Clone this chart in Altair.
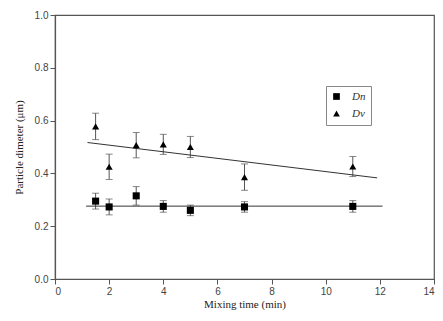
import altair as alt
import pandas as pd

# data
times = [1.5, 2, 3, 4, 5, 7, 11]
dn_vals = [0.295, 0.273, 0.315, 0.275, 0.260, 0.273, 0.275]
dn_err = [0.030, 0.030, 0.035, 0.022, 0.020, 0.020, 0.022]
dv_vals = [0.578, 0.425, 0.507, 0.510, 0.500, 0.386, 0.426]
dv_err = [0.050, 0.048, 0.048, 0.038, 0.040, 0.050, 0.038]

fit_dn_x = [1.15, 12.1]
fit_dn_y = [0.276, 0.276]
fit_dv_x = [1.2, 11.9]
fit_dv_y = [0.517, 0.383]

series_names = ["Dn", "Dv"]

rows = []
for t, v, e in zip(times, dn_vals, dn_err):
    rows.append({"t": t, "v": v, "lo": v - e, "hi": v + e, "s": "Dn"})
for t, v, e in zip(times, dv_vals, dv_err):
    rows.append({"t": t, "v": v, "lo": v - e, "hi": v + e, "s": "Dv"})
df = pd.DataFrame(rows)

fit_rows = []
for x, y in zip(fit_dn_x, fit_dn_y):
    fit_rows.append({"t": x, "v": y, "s": "Dn"})
for x, y in zip(fit_dv_x, fit_dv_y):
    fit_rows.append({"t": x, "v": y, "s": "Dv"})
fit_df = pd.DataFrame(fit_rows)

axis_color = "#555555"
label_color = "#444444"

x_axis = alt.Axis(
    values=list(range(0, 15)),
    labelExpr="datum.value % 2 === 0 ? datum.label : ''",
    tickSize={"condition": {"test": "datum.value % 2 !== 0", "value": 3}, "value": 5},
    title="Mixing time (min)",
    titleFont="Liberation Serif", titleFontWeight="normal", titleFontSize=11,
    titleColor="#222222", titlePadding=2,
    labelFont="Liberation Sans", labelFontSize=10, labelColor=label_color,
    domainColor=axis_color, tickColor=axis_color, domainWidth=1.2, grid=False,
    labelPadding=2,
)
y_axis = alt.Axis(
    values=[i / 10 for i in range(0, 11)],
    labelExpr="(round(datum.value*10) % 2 === 0) ? format(datum.value, '.1f') : ''",
    tickSize={"condition": {"test": "round(datum.value*10) % 2 !== 0", "value": 3}, "value": 5},
    title="Particle dimeter (μm)",
    titleFont="Liberation Serif", titleFontWeight="normal", titleFontSize=11,
    titleColor="#222222", titlePadding=10,
    labelFont="Liberation Sans", labelFontSize=10, labelColor=label_color,
    domainColor=axis_color, tickColor=axis_color, domainWidth=1.2, grid=False,
    labelPadding=2,
)

xs = alt.Scale(domain=[0, 14], nice=False)
ys = alt.Scale(domain=[0, 1.0], nice=False)

bars = alt.Chart(df).mark_errorbar(ticks={"size": 7, "color": "#555555"}, color="#555555", thickness=1).encode(
    x=alt.X("t:Q", scale=xs, axis=x_axis),
    y=alt.Y("lo:Q", scale=ys, axis=y_axis),
    y2="hi:Q",
)

fits = alt.Chart(fit_df).mark_line(color="#333333", strokeWidth=1).encode(
    x=alt.X("t:Q", scale=xs),
    y=alt.Y("v:Q", scale=ys),
    detail="s:N",
)

pts = alt.Chart(df).mark_point(filled=True, opacity=1, color="black").encode(
    x=alt.X("t:Q", scale=xs),
    y=alt.Y("v:Q", scale=ys),
    shape=alt.Shape("s:N", scale=alt.Scale(domain=series_names, range=["square", "triangle-up"]),
                    legend=alt.Legend(
                        title=None, orient="none", legendX=271, legendY=71,
                        strokeColor="#888888", padding=5, fillColor="white",
                        labelFont="Liberation Serif", labelFontStyle="italic",
                        labelFontSize=11, labelColor="#333333",
                        symbolFillColor="black", symbolStrokeColor="black",
                        symbolSize=45, rowPadding=4, labelOffset=10,
                    )),
    size=alt.value(50),
)

chart = alt.layer(bars, fits, pts).properties(
    width=379, height=264,
    autosize="none",
    padding={"left": 47, "top": 7, "right": 1, "bottom": 34},
).configure_view(stroke=axis_color, strokeWidth=1.2)

chart.save("out.html", embed_options={"renderer": "svg", "actions": False})
